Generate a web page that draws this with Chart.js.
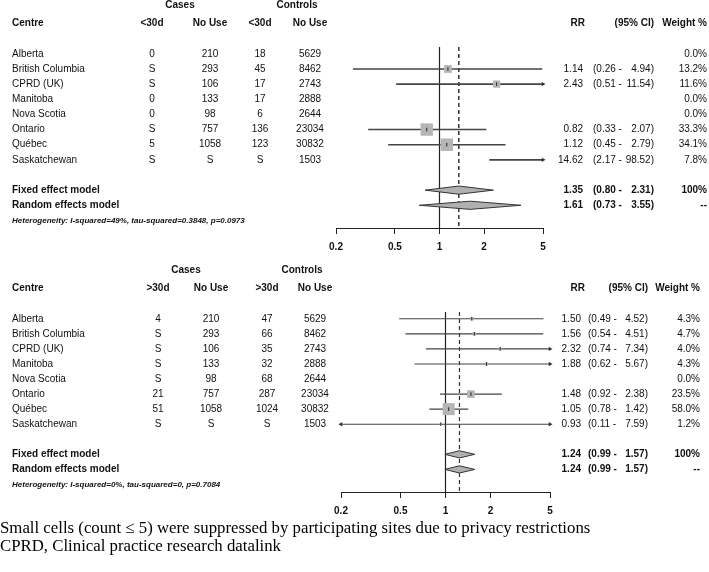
<!DOCTYPE html>
<html>
<head>
<meta charset="utf-8">
<script src="https://cdn.jsdelivr.net/npm/chart.js@4.4.1/dist/chart.umd.min.js"></script>
<style>
  body { margin: 0; background: #fff; }
  #wrap { position: relative; width: 709px; height: 572px; }
  canvas { position: absolute; left: 0; }
  #note { position: absolute; left: 0; top: 519px; font: 16.8px "Liberation Serif", "Times New Roman", serif; line-height: 18px; color: #000; white-space: nowrap; }
</style>
</head>
<body>
<div id="wrap">
  <canvas id="topPanel" width="709" height="265" style="top:0"></canvas>
  <canvas id="bottomPanel" width="709" height="265" style="top:265px"></canvas>
  <div id="note">Small cells (count ≤ 5) were suppressed by participating sites due to privacy restrictions<br>CPRD, Clinical practice research datalink</div>
</div>
<script>
// shared
const centres = ['Alberta', 'British Columbia', 'CPRD (UK)', 'Manitoba', 'Nova Scotia', 'Ontario', 'Québec', 'Saskatchewan'];
const casesNoUse = ['210', '293', '106', '133', '98', '757', '1058', 'S'];
const controlsNoUse = ['5629', '8462', '2743', '2888', '2644', '23034', '30832', '1503'];
const xTicks = [0.2, 0.5, 1, 2, 5];

// <30d panel
const casesShort = ['0', 'S', 'S', '0', '0', 'S', '5', 'S'];
const controlsShort = ['18', '45', '17', '17', '6', '136', '123', 'S'];
const rrShort = [null, 1.14, 2.43, null, null, 0.82, 1.12, 14.62];
const loShort = [null, 0.26, 0.51, null, null, 0.33, 0.45, 2.17];
const hiShort = [null, 4.94, 11.54, null, null, 2.07, 2.79, 98.52];
const weightShort = [0.0, 13.2, 11.6, 0.0, 0.0, 33.3, 34.1, 7.8];
const fixedShort = [1.35, 0.80, 2.31];
const randomShort = [1.61, 0.73, 3.55];
const hetShort = 'Heterogeneity: I-squared=49%, tau-squared=0.3848, p=0.0973';

// >30d panel
const casesLong = ['4', 'S', 'S', 'S', 'S', '21', '51', 'S'];
const controlsLong = ['47', '66', '35', '32', '68', '287', '1024', 'S'];
const rrLong = [1.50, 1.56, 2.32, 1.88, null, 1.48, 1.05, 0.93];
const loLong = [0.49, 0.54, 0.74, 0.62, null, 0.92, 0.78, 0.11];
const hiLong = [4.52, 4.51, 7.34, 5.67, null, 2.38, 1.42, 7.59];
const weightLong = [4.3, 4.7, 4.0, 4.3, 0.0, 23.5, 58.0, 1.2];
const fixedLong = [1.24, 0.99, 1.57];
const randomLong = [1.24, 0.99, 1.57];
const hetLong = 'Heterogeneity: I-squared=0%, tau-squared=0, p=0.7084';

const X_MIN = 0.2, X_MAX = 5, Y_MIN = 0.55, Y_MAX = 12.5;
const FIXED_ROW = 10, RANDOM_ROW = 11, HET_ROW = 12;
const SANS = '"Liberation Sans", Arial, sans-serif';
const clamp = v => Math.min(X_MAX, Math.max(X_MIN, v));

function tablePlugin(p, c) {
  return {
    id: 'table',
    afterDraw(chart) {
      const ctx = chart.ctx;
      const Y = r => chart.scales.y.getPixelForValue(r);
      const B = 'bold 10px ' + SANS, N = '10px ' + SANS;
      const txt = (s, x, y, align, font) => { ctx.font = font; ctx.textAlign = align; ctx.fillText(s, x, y); };
      ctx.save();
      ctx.fillStyle = '#111';
      ctx.textBaseline = 'middle';
      txt('Cases', c.casesHdr, Y(-2.2), 'center', B);
      txt('Controls', c.ctrlHdr, Y(-2.2), 'center', B);
      const hy = Y(-1);
      txt('Centre', c.centre, hy, 'left', B);
      txt(p.label, c.c1, hy, 'center', B);
      txt('No Use', c.c2, hy, 'center', B);
      txt(p.label, c.c3, hy, 'center', B);
      txt('No Use', c.c4, hy, 'center', B);
      txt('RR', c.rrHdr, hy, 'right', B);
      txt('(95% CI)', c.ciR, hy, 'right', B);
      txt('Weight %', c.w, hy, 'right', B);
      centres.forEach((name, i) => {
        const y = Y(i + 1);
        txt(name, c.centre, y, 'left', N);
        txt(p.cases[i], c.c1, y, 'center', N);
        txt(casesNoUse[i], c.c2, y, 'center', N);
        txt(p.controls[i], c.c3, y, 'center', N);
        txt(controlsNoUse[i], c.c4, y, 'center', N);
        if (p.rr[i] != null) {
          txt(p.rr[i].toFixed(2), c.rr, y, 'right', N);
          txt('(' + p.lo[i].toFixed(2) + ' -', c.ciL, y, 'left', N);
          txt(p.hi[i].toFixed(2) + ')', c.ciR, y, 'right', N);
        }
        txt(p.w[i].toFixed(1) + '%', c.w, y, 'right', N);
      });
      [[p.fixed, FIXED_ROW, 'Fixed effect model', '100%'], [p.random, RANDOM_ROW, 'Random effects model', '--']].forEach(([m, row, name, wt]) => {
        const y = Y(row);
        txt(name, c.centre, y, 'left', B);
        txt(m[0].toFixed(2), c.rr, y, 'right', B);
        txt('(' + m[1].toFixed(2) + ' -', c.ciL, y, 'left', B);
        txt(m[2].toFixed(2) + ')', c.ciR, y, 'right', B);
        txt(wt, c.w, y, 'right', B);
      });
      txt(p.het, c.centre, Y(HET_ROW), 'left', 'italic bold 8px ' + SANS);
      ctx.restore();
    }
  };
}

function forest(id, p, c, st) {
  const datasets = [];
  const line = (pts, color, width, extra) => Object.assign({ data: pts, showLine: true, pointRadius: 0, borderColor: color, borderWidth: width, order: 8 }, extra || {});
  datasets.push(line([{ x: 1, y: Y_MIN }, { x: 1, y: Y_MAX }], '#222', 1.2, { order: 9 }));
  datasets.push(line([{ x: p.fixed[0], y: Y_MIN }, { x: p.fixed[0], y: Y_MAX }], '#333', st.dashW, { borderDash: [4, 3], order: 9 }));
  p.rr.forEach((rr, i) => {
    if (rr == null) return;
    datasets.push(line([{ x: clamp(p.lo[i]), y: i + 1 }, { x: clamp(p.hi[i]), y: i + 1 }], '#444', st.ciW));
  });
  const maxW = Math.max(...p.w);
  const shown = p.rr.map((rr, i) => ({ rr, i })).filter(d => d.rr != null && d.rr >= X_MIN && d.rr <= X_MAX);
  const pts = shown.map(d => ({ x: d.rr, y: d.i + 1 }));
  datasets.push({ data: pts, pointStyle: 'rect', pointRadius: shown.map(d => Math.max(0.8, st.box * Math.sqrt(p.w[d.i] / maxW) / Math.SQRT2)), backgroundColor: '#b5b5b5', borderWidth: 0, order: 5 });
  datasets.push({ data: pts, pointStyle: 'line', pointRotation: 90, pointRadius: 1.8, borderColor: '#222', borderWidth: 1, order: 4 });
  const arrows = [];
  p.rr.forEach((rr, i) => {
    if (rr == null) return;
    if (p.hi[i] > X_MAX) arrows.push({ x: X_MAX, y: i + 1, r: 90 });
    if (p.lo[i] < X_MIN) arrows.push({ x: X_MIN, y: i + 1, r: -90 });
  });
  datasets.push({ data: arrows, pointStyle: 'triangle', pointRotation: arrows.map(a => a.r), pointRadius: 2.5, backgroundColor: '#333', borderColor: '#333', borderWidth: 0, clip: false, order: 4 });
  [[p.fixed, FIXED_ROW], [p.random, RANDOM_ROW]].forEach(([m, row]) => {
    const h = st.dia;
    datasets.push(line([{ x: m[1], y: row }, { x: m[0], y: row - h }, { x: m[2], y: row }, { x: m[0], y: row + h }, { x: m[1], y: row }],
      '#333', 1, { fill: 'shape', backgroundColor: '#b0b0b0', order: 6 }));
  });

  new Chart(document.getElementById(id), {
    type: 'scatter',
    data: { datasets },
    options: {
      responsive: false,
      animation: false,
      events: [],
      layout: { padding: st.pad },
      plugins: { legend: { display: false }, tooltip: { enabled: false } },
      scales: {
        x: {
          type: 'logarithmic', min: X_MIN, max: X_MAX,
          afterBuildTicks: s => { s.ticks = xTicks.map(v => ({ value: v })); },
          afterFit: s => { s.height = 30; },
          grid: { drawOnChartArea: false, drawTicks: true, tickLength: 6, color: '#222', lineWidth: 1 },
          border: { display: true, color: '#222', width: 1 },
          ticks: { autoSkip: false, maxRotation: 0, padding: 7, color: '#111', font: { family: SANS, size: 10, weight: 'bold' }, callback: v => String(v) }
        },
        y: { type: 'linear', reverse: true, min: Y_MIN, max: Y_MAX, display: false }
      }
    },
    plugins: [tablePlugin(p, c)]
  });
}

forest('topPanel',
  { label: '<30d', cases: casesShort, controls: controlsShort, rr: rrShort, lo: loShort, hi: hiShort, w: weightShort, fixed: fixedShort, random: randomShort, het: hetShort },
  { centre: 12, c1: 152, c2: 210, c3: 260, c4: 310, casesHdr: 180, ctrlHdr: 297, rr: 583, rrHdr: 585, ciL: 593, ciR: 654, w: 707 },
  { pad: { left: 336, right: 166, top: 47, bottom: 7 }, ciW: 1.6, dashW: 1.5, box: 12.5, dia: 0.27 });

forest('bottomPanel',
  { label: '>30d', cases: casesLong, controls: controlsLong, rr: rrLong, lo: loLong, hi: hiLong, w: weightLong, fixed: fixedLong, random: randomLong, het: hetLong },
  { centre: 12, c1: 158, c2: 211, c3: 267, c4: 315, casesHdr: 186, ctrlHdr: 302, rr: 581, rrHdr: 585, ciL: 588, ciR: 648, w: 700 },
  { pad: { left: 341, right: 159, top: 47, bottom: 8 }, ciW: 1.1, dashW: 1.2, box: 12, dia: 0.24 });
</script>
</body>
</html>
